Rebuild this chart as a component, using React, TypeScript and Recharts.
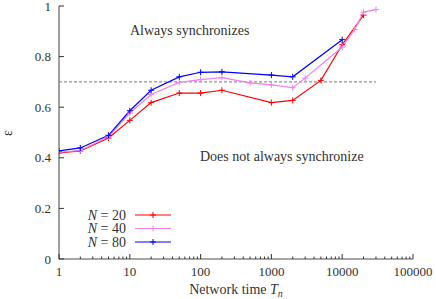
import React from 'react';
import { LineChart, Line, XAxis, YAxis, ReferenceLine } from 'recharts';

// network time T_n and epsilon for each N
const tN20 = [1, 2, 5, 10, 20, 50, 100, 200, 1000, 2000, 5000, 10000, 20000];
const eps20 = [0.419, 0.427, 0.478, 0.548, 0.618, 0.656, 0.656, 0.667, 0.618, 0.627, 0.706, 0.847, 0.964];

const tN40 = [1, 2, 5, 10, 20, 50, 100, 200, 500, 1000, 2000, 3000, 10000, 15000, 20000, 30000];
const eps40 = [0.422, 0.429, 0.483, 0.577, 0.65, 0.698, 0.709, 0.717, 0.696, 0.688, 0.677, 0.715, 0.838, 0.907, 0.976, 0.986];

const tN80 = [1, 2, 5, 10, 20, 50, 100, 200, 1000, 2000, 10000];
const eps80 = [0.427, 0.439, 0.489, 0.586, 0.667, 0.72, 0.738, 0.74, 0.727, 0.72, 0.867];

const decades = [1, 10, 100, 1000, 10000, 100000];
const yTicks = [0, 0.2, 0.4, 0.6, 0.8, 1];
const threshold = 0.7;
const thresholdEnd = 30000;

const series = [
  { name: '20', t: tN20, eps: eps20, color: '#ff0000' },
  { name: '40', t: tN40, eps: eps40, color: '#ee82ee' },
  { name: '80', t: tN80, eps: eps80, color: '#0000ff' },
];

// major + minor log ticks
const xTicks: number[] = [];
decades.forEach((d, i) => {
  xTicks.push(d);
  if (i < decades.length - 1) for (let k = 2; k <= 9; k++) xTicks.push(d * k);
});

const W = 436;
const H = 299;
const FONT = "'Liberation Serif', 'DejaVu Serif', serif";
const TXT = '#333';
const fontStyle = { fontFamily: FONT };

const isMajor = (v: number) => decades.includes(v);

const BottomTick = (props: any) => {
  const { x, y, payload } = props;
  const major = isMajor(payload.value);
  return (
    <g>
      <line x1={x} x2={x} y1={y} y2={y - (major ? 5 : 2.5)} stroke="#333" strokeWidth={1} />
      {major && (
        <text x={x} y={y + 17} textAnchor="middle" fill={TXT} fontSize={13} style={fontStyle}>
          {payload.value}
        </text>
      )}
    </g>
  );
};

const TopTick = (props: any) => {
  const { x, y, payload } = props;
  const major = isMajor(payload.value);
  return <line x1={x} x2={x} y1={y} y2={y + (major ? 5 : 2.5)} stroke="#333" strokeWidth={1} />;
};

const LeftTick = (props: any) => {
  const { x, y, payload } = props;
  return (
    <g>
      <line x1={x} x2={x + 5} y1={y} y2={y} stroke="#333" strokeWidth={1} />
      <text x={x - 8} y={y + 4.5} textAnchor="end" fill={TXT} fontSize={13} style={fontStyle}>
        {payload.value}
      </text>
    </g>
  );
};

const RightTick = (props: any) => {
  const { x, y } = props;
  return <line x1={x} x2={x - 5} y1={y} y2={y} stroke="#333" strokeWidth={1} />;
};

const plusDot = (color: string) => (p: any) => {
  const { cx, cy, index } = p;
  return (
    <path key={index} d={`M${cx - 3},${cy}h6M${cx},${cy - 3}v6`} stroke={color} strokeWidth={1} fill="none" />
  );
};

export default function App() {
  return (
    <div style={{ position: 'absolute', left: 0, top: 0, width: W, height: H, background: '#fff' }}>
      <LineChart width={W} height={H} margin={{ top: 6, right: 23, bottom: 0, left: 0 }}>
        <XAxis
          xAxisId={0}
          type="number"
          dataKey="t"
          scale="log"
          domain={[1, 100000]}
          allowDataOverflow
          ticks={xTicks}
          interval={0}
          tickSize={0}
          tickMargin={0}
          tick={BottomTick}
          axisLine={{ stroke: '#888', strokeWidth: 1.6 }}
          height={40}
        />
        <XAxis
          xAxisId="top"
          orientation="top"
          type="number"
          scale="log"
          domain={[1, 100000]}
          allowDataOverflow
          ticks={xTicks}
          interval={0}
          tickSize={0}
          tickMargin={0}
          tick={TopTick}
          axisLine={{ stroke: '#222', strokeWidth: 1 }}
          height={0}
        />
        <YAxis
          yAxisId={0}
          type="number"
          domain={[0, 1]}
          ticks={yTicks}
          interval={0}
          tickSize={0}
          tickMargin={0}
          tick={LeftTick}
          axisLine={{ stroke: '#888', strokeWidth: 1.6 }}
          width={59}
        />
        <YAxis
          yAxisId="right"
          orientation="right"
          type="number"
          domain={[0, 1]}
          ticks={yTicks}
          interval={0}
          tickSize={0}
          tickMargin={0}
          tick={RightTick}
          axisLine={{ stroke: '#222', strokeWidth: 1 }}
          width={0}
        />
        <ReferenceLine
          segment={[
            { x: 1, y: threshold },
            { x: thresholdEnd, y: threshold },
          ]}
          stroke="#555"
          strokeWidth={0.8}
          strokeDasharray="3 2"
          ifOverflow="visible"
        />
        {series.map((s) => (
          <Line
            key={s.name}
            data={s.t.map((t, i) => ({ t, eps: s.eps[i] }))}
            dataKey="eps"
            type="linear"
            stroke={s.color}
            strokeWidth={1.2}
            dot={plusDot(s.color)}
            activeDot={false}
            isAnimationActive={false}
          />
        ))}
      </LineChart>
      <svg
        width={W}
        height={H}
        style={{ position: 'absolute', left: 0, top: 0, pointerEvents: 'none', fontFamily: FONT }}
        fill={TXT}
      >
        <text x={130} y={35} fontSize={14}>Always synchronizes</text>
        <text x={200} y={160.5} fontSize={14}>Does not always synchronize</text>
        <text x={236} y={294} fontSize={14} textAnchor="middle">
          Network time <tspan fontStyle="italic">T</tspan>
          <tspan fontStyle="italic" fontSize={10} dy={3}>n</tspan>
        </text>
        <text x={12} y={133} fontSize={14} textAnchor="middle" transform="rotate(-90 12 133)">
          ε
        </text>
        {series.map((s, i) => {
          const y = 215 + i * 13.5;
          return (
            <g key={s.name}>
              <text x={126} y={y + 4.5} fontSize={14} textAnchor="end">
                <tspan fontStyle="italic">N</tspan> = {s.name}
              </text>
              <line x1={135} x2={171} y1={y} y2={y} stroke={s.color} strokeWidth={1.2} />
              <path d={`M150,${y}h6M153,${y - 3}v6`} stroke={s.color} strokeWidth={1} />
            </g>
          );
        })}
      </svg>
    </div>
  );
}
